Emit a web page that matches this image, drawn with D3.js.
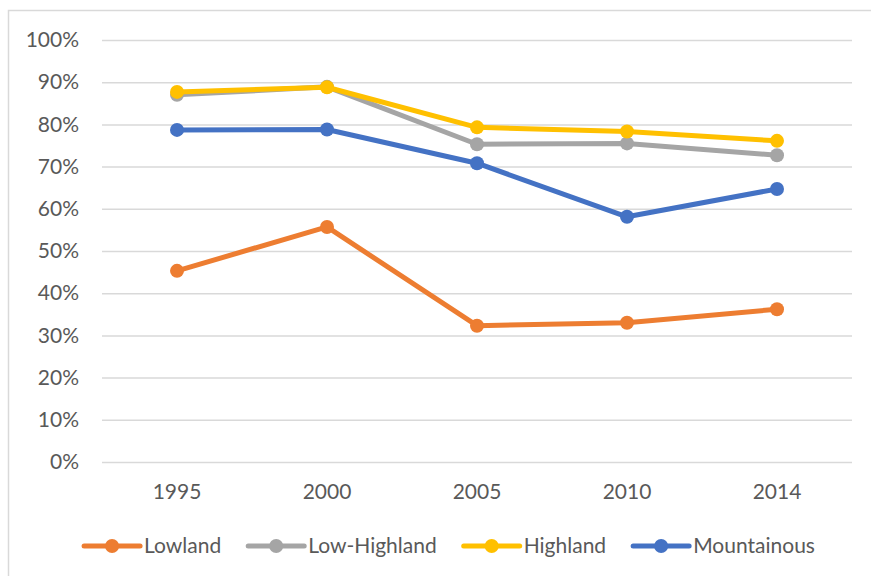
<!DOCTYPE html>
<html>
<head>
<meta charset="utf-8">
<script src="https://cdn.jsdelivr.net/npm/d3@7"></script>
<style>
    body { margin: 0; background: #fff; }
    text { font-family: Lato, "Noto Sans", sans-serif; fill: #595959; }
</style>
</head>
<body>
<script>
'use strict';

// chart data
const years = ["1995", "2000", "2005", "2010", "2014"];
const seriesNames = ["Lowland", "Low-Highland", "Highland", "Mountainous"];
const lowland = [45.3, 55.7, 32.3, 33.0, 36.2];
const lowHighland = [87.0, 88.9, 75.3, 75.5, 72.7];
const highland = [87.7, 88.8, 79.3, 78.3, 76.1];
const mountainous = [78.7, 78.8, 70.8, 58.1, 64.7];
const yTicks = [0, 10, 20, 30, 40, 50, 60, 70, 80, 90, 100];
const seriesColors = ["#ED7D31", "#A5A5A5", "#FFC000", "#4472C4"];

(function () {
    const width = 871, height = 576;
    const plot = { left: 102, right: 852, top: 40, bottom: 462 };
    const fontSize = '21px';

    const svg = d3.select('body')
        .append('svg')
        .attr('width', width)
        .attr('height', height);

    // outer chart border (right/bottom fall off the canvas like the source)
    svg.append('rect')
        .attr('x', 8.5)
        .attr('y', 10.5)
        .attr('width', 900)
        .attr('height', 600)
        .attr('fill', 'none')
        .attr('stroke', '#D9D9D9')
        .attr('stroke-width', 1.5);

    const x = d3.scaleBand()
        .domain(years)
        .range([plot.left, plot.right]);

    const y = d3.scaleLinear()
        .domain([0, 100])
        .range([plot.bottom, plot.top]);

    // gridlines + y labels
    const yAxis = d3.axisLeft(y)
        .tickValues(yTicks)
        .tickSize(-(plot.right - plot.left))
        .tickPadding(23)
        .tickFormat(d => d + '%');

    const gy = svg.append('g')
        .attr('transform', `translate(${plot.left},0)`)
        .call(yAxis);
    gy.select('.domain').remove();
    gy.selectAll('.tick line')
        .attr('stroke', '#D9D9D9')
        .attr('stroke-width', 1.5);
    gy.selectAll('.tick text')
        .style('font-size', fontSize)
        .attr('fill', '#595959');

    // x labels
    const xAxis = d3.axisBottom(x)
        .tickSize(0)
        .tickPadding(22);
    const gx = svg.append('g')
        .attr('transform', `translate(0,${plot.bottom})`)
        .call(xAxis);
    gx.select('.domain').remove();
    gx.selectAll('.tick text')
        .style('font-size', fontSize)
        .attr('fill', '#595959');

    const allSeries = [lowland, lowHighland, highland, mountainous].map((vals, i) => ({
        name: seriesNames[i],
        color: seriesColors[i],
        values: vals.map((v, j) => ({ year: years[j], value: v }))
    }));

    const line = d3.line()
        .x(d => x(d.year) + x.bandwidth() / 2)
        .y(d => y(d.value));

    const groups = svg.selectAll('.series')
        .data(allSeries)
        .enter()
        .append('g')
        .attr('class', 'series');

    groups.append('path')
        .attr('d', d => line(d.values))
        .attr('fill', 'none')
        .attr('stroke', d => d.color)
        .attr('stroke-width', 5)
        .attr('stroke-linejoin', 'round')
        .attr('stroke-linecap', 'round');

    groups.selectAll('circle')
        .data(d => d.values.map(v => Object.assign({ color: d.color }, v)))
        .enter()
        .append('circle')
        .attr('cx', d => x(d.year) + x.bandwidth() / 2)
        .attr('cy', d => y(d.value))
        .attr('r', 7)
        .attr('fill', d => d.color);

    // legend
    const legend = svg.append('g');
    const legY = 546;
    let cursor = 0;
    allSeries.forEach((s, i) => {
        const item = legend.append('g').attr('transform', `translate(${cursor},0)`);
        item.append('line')
            .attr('x1', 0).attr('x2', 56)
            .attr('y1', legY).attr('y2', legY)
            .attr('stroke', s.color)
            .attr('stroke-width', 5)
            .attr('stroke-linecap', 'round');
        item.append('circle')
            .attr('cx', 28).attr('cy', legY)
            .attr('r', 7)
            .attr('fill', s.color);
        const t = item.append('text')
            .attr('x', 60)
            .attr('y', legY)
            .attr('dy', '0.35em')
            .style('font-size', fontSize)
            .text(s.name);
        cursor += 60 + t.node().getComputedTextLength() + 27;
    });
    const legWidth = cursor - 27;
    const legStart = (77 + 822) / 2 - legWidth / 2;
    legend.attr('transform', `translate(${legStart},0)`);
})();
</script>
</body>
</html>
